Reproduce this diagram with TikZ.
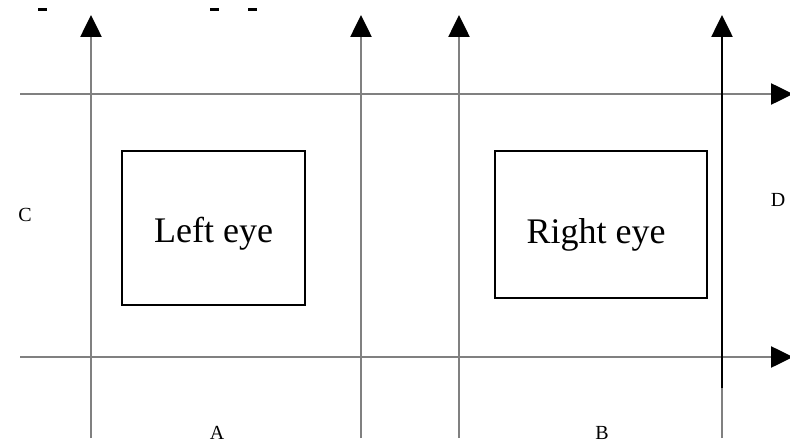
\documentclass[tikz,border=0pt]{standalone}
\usepackage{fontspec}
\setmainfont{Liberation Serif}
\usetikzlibrary{arrows.meta}
\begin{document}
\begin{tikzpicture}[x=1pt,y=-1pt,
  axis/.style={draw=black!50,line width=2.6pt,-{Triangle[length=22pt,width=21pt,black]}},
  plainline/.style={draw=black!50,line width=2.6pt},
  eyebox/.style={draw=black,line width=1.5pt,inner sep=0pt},
  eyetext/.style={inner sep=0pt,anchor=base,font=\fontsize{36}{40}\selectfont},
  lbl/.style={inner sep=0pt,anchor=base,font=\fontsize{20}{22}\selectfont},
  tick/.style={draw=black,line width=3pt}]
\useasboundingbox (0,0) rectangle (790,444);
% coordinates
\coordinate (v1b) at (91,438); \coordinate (v1t) at (91,15);
\coordinate (v2b) at (361,438); \coordinate (v2t) at (361,15);
\coordinate (v3b) at (459,438); \coordinate (v3t) at (459,15);
\coordinate (v4b) at (722,438); \coordinate (v4m) at (722,388); \coordinate (v4t) at (722,15);
\coordinate (h1l) at (20,94); \coordinate (h1r) at (793,94);
\coordinate (h2l) at (20,357); \coordinate (h2r) at (793,357);
% horizontal axes
\draw[axis] (h1l) -- (h1r);
\draw[axis] (h2l) -- (h2r);
% vertical axes
\draw[axis] (v1b) -- (v1t);
\draw[axis] (v2b) -- (v2t);
\draw[axis] (v3b) -- (v3t);
\draw[plainline] (v4b) -- (v4m);
\draw[axis,draw=black] (v4m) -- (v4t);
% boxes
\node[eyebox,minimum width=183pt,minimum height=154pt] (left) at (213.5,228) {};
\node[eyebox,minimum width=212pt,minimum height=147pt] (right) at (601,224.5) {};
\node[eyetext] (lt) at (213.5,242) {Left eye};
\node[eyetext] (rt) at (596,243) {Right eye};
% labels
\node[lbl] (C) at (25,221) {C};
\node[lbl] (D) at (778,206) {D};
\node[lbl] (A) at (217,439) {A};
\node[lbl] (B) at (602,439) {B};
% cut-off marks at top
\draw[tick] (38,10) -- (47,10);
\draw[tick] (210,10) -- (219,10);
\draw[tick] (248,10) -- (257,10);
\end{tikzpicture}
\end{document}
